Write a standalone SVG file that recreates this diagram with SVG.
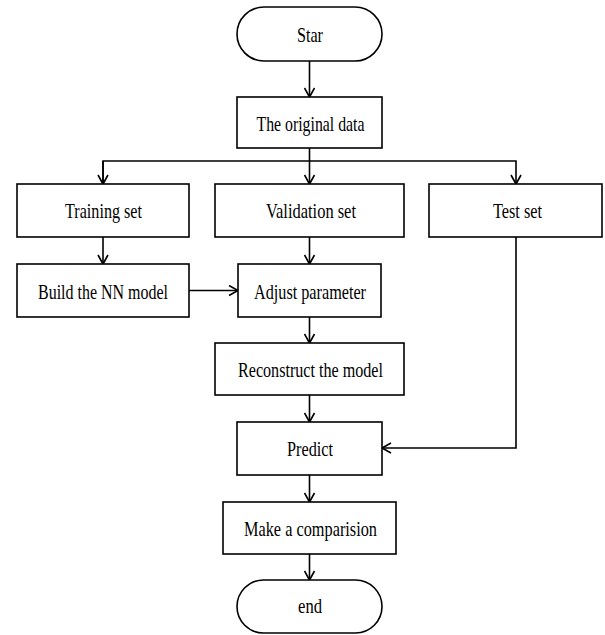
<svg xmlns="http://www.w3.org/2000/svg" width="605" height="635" viewBox="0 0 605 635">
<defs>
<style>
.box{fill:#fff;stroke:#000;stroke-width:1.6}
.t{font-family:"Liberation Serif","Times New Roman",serif;font-size:22px;fill:#000;text-anchor:middle}
.c{fill:none;stroke:#000;stroke-width:1.6}
</style>
<marker id="ah" markerWidth="12" markerHeight="12" refX="10" refY="6" orient="auto" markerUnits="userSpaceOnUse">
<path d="M1,1 L10,6 L1,11" fill="none" stroke="#000" stroke-width="1.6"/>
</marker>
</defs>
<rect width="605" height="635" fill="#fff"/>
<g id="connectors">
<path class="c" d="M309.5,61 V97" marker-end="url(#ah)"/>
<path class="c" d="M309.5,148 V184" marker-end="url(#ah)"/>
<path class="c" d="M103,184 V161 H516 V184" marker-end="url(#ah)"/>
<path class="c" d="M103,161 V184" marker-end="url(#ah)"/>
<path class="c" d="M103,237 V264" marker-end="url(#ah)"/>
<path class="c" d="M309.5,237 V264" marker-end="url(#ah)"/>
<path class="c" d="M189,290.5 H238" marker-end="url(#ah)"/>
<path class="c" d="M309.5,317 V343" marker-end="url(#ah)"/>
<path class="c" d="M309.5,395 V422" marker-end="url(#ah)"/>
<path class="c" d="M516,237 V448 H382" marker-end="url(#ah)"/>
<path class="c" d="M309.5,475 V502" marker-end="url(#ah)"/>
<path class="c" d="M309.5,554 V580" marker-end="url(#ah)"/>
</g>
<g id="start">
<rect class="box" x="237" y="7" width="145" height="54" rx="27" ry="27"/>
<text class="t" x="310" y="42" textLength="26" lengthAdjust="spacingAndGlyphs">Star</text>
</g>
<g id="data">
<rect class="box" x="237" y="97" width="145" height="51"/>
<text class="t" x="310.5" y="131" textLength="108" lengthAdjust="spacingAndGlyphs">The original data</text>
</g>
<g id="training">
<rect class="box" x="17" y="184" width="172" height="53"/>
<text class="t" x="103.5" y="218" textLength="77" lengthAdjust="spacingAndGlyphs">Training set</text>
</g>
<g id="validation">
<rect class="box" x="215" y="184" width="189" height="53"/>
<text class="t" x="311" y="218" textLength="90" lengthAdjust="spacingAndGlyphs">Validation set</text>
</g>
<g id="test">
<rect class="box" x="429" y="184" width="173" height="53"/>
<text class="t" x="517.5" y="218" textLength="49" lengthAdjust="spacingAndGlyphs">Test set</text>
</g>
<g id="build">
<rect class="box" x="17" y="264" width="172" height="53"/>
<text class="t" x="103" y="299" textLength="130" lengthAdjust="spacingAndGlyphs">Build the NN model</text>
</g>
<g id="adjust">
<rect class="box" x="238" y="264" width="143" height="53"/>
<text class="t" x="310" y="299" textLength="112" lengthAdjust="spacingAndGlyphs">Adjust parameter</text>
</g>
<g id="reconstruct">
<rect class="box" x="215" y="343" width="189" height="52"/>
<text class="t" x="310.5" y="377" textLength="145" lengthAdjust="spacingAndGlyphs">Reconstruct the model</text>
</g>
<g id="predict">
<rect class="box" x="237" y="422" width="145" height="53"/>
<text class="t" x="310" y="456" textLength="46" lengthAdjust="spacingAndGlyphs">Predict</text>
</g>
<g id="compare">
<rect class="box" x="223" y="502" width="173" height="52"/>
<text class="t" x="310.5" y="536" textLength="133" lengthAdjust="spacingAndGlyphs">Make a comparision</text>
</g>
<g id="end">
<rect class="box" x="237" y="580" width="145" height="53" rx="26.5" ry="26.5"/>
<text class="t" x="310" y="613" textLength="24" lengthAdjust="spacingAndGlyphs">end</text>
</g>
</svg>
